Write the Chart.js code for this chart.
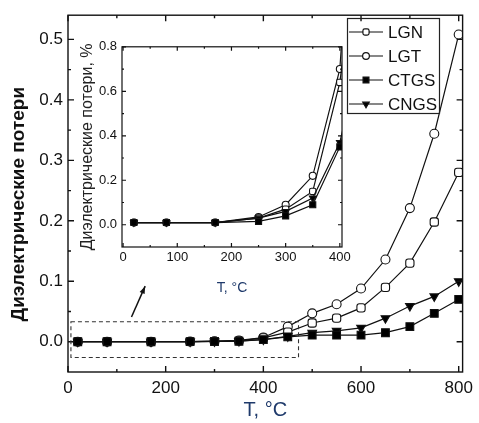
<!DOCTYPE html>
<html>
<head>
<meta charset="utf-8">
<script src="https://cdn.jsdelivr.net/npm/chart.js@4.4.1/dist/chart.umd.min.js"></script>
<style>
  html, body { margin: 0; padding: 0; background: #fff; }
  #wrap { position: relative; width: 479px; height: 423px; }
  #main { position: absolute; left: 0; top: 0; }
  #inset { position: absolute; left: 70px; top: 34px; }
</style>
</head>
<body>
<div id="wrap">
  <canvas id="main" width="479" height="423"></canvas>
  <canvas id="inset" width="285" height="270"></canvas>
</div>
<script>
// main plot: temperature (°C) and losses
const tempMain = [20, 80, 170, 250, 300, 350, 400, 450, 500, 550, 600, 650, 700, 750, 800];
const lgnMain  = [0.0001, 0.0001, 0.0001, 0.0003, 0.0007, 0.0015, 0.0064, 0.016, 0.031, 0.039, 0.056, 0.090, 0.130, 0.198, 0.280];
const lgtMain  = [0.0001, 0.0001, 0.0001, 0.00035, 0.0009, 0.0022, 0.0070, 0.025, 0.047, 0.062, 0.088, 0.136, 0.221, 0.344, 0.508];
const ctgsMain = [0.0001, 0.0001, 0.0001, 0.00015, 0.0004, 0.0009, 0.0035, 0.008, 0.011, 0.011, 0.011, 0.015, 0.025, 0.047, 0.070];
const cngsMain = [0.0001, 0.0001, 0.0001, 0.0003, 0.0006, 0.0012, 0.0037, 0.009, 0.015, 0.018, 0.023, 0.039, 0.059, 0.075, 0.100];

// inset: same samples up to 450 °C, losses in %
const tempInset = [20, 80, 170, 250, 300, 350, 400, 450];
const lgnInset  = [0.01, 0.01, 0.01, 0.03, 0.07, 0.15, 0.64, 1.6];
const lgtInset  = [0.01, 0.01, 0.01, 0.035, 0.09, 0.22, 0.70, 2.5];
const ctgsInset = [0.01, 0.01, 0.01, 0.015, 0.04, 0.09, 0.35, 0.8];
const cngsInset = [0.01, 0.01, 0.01, 0.03, 0.06, 0.12, 0.37, 0.9];

const names = ['LGN', 'LGT', 'CTGS', 'CNGS'];
const xTicksMain = [0, 200, 400, 600, 800];
const yTicksMain = [0, 0.1, 0.2, 0.3, 0.4, 0.5];
const xTicksInset = [0, 100, 200, 300, 400];
const yTicksInset = [0, 0.2, 0.4, 0.6, 0.8];

// dashed zoom region and arrow (data units)
const boxT = [6, 472];
const boxLoss = [-0.026, 0.033];
const arrowT = [130, 158];
const arrowLoss = [0.041, 0.092];

const FONT = '"Liberation Sans", Arial, sans-serif';
const looks = {
  LGN:  { style: 'rectRounded', fill: '#fff', r: 4.8, rot: 0 },
  LGT:  { style: 'circle', fill: '#fff', r: 4.5, rot: 0 },
  CTGS: { style: 'rect', fill: '#000', r: 5.5, rot: 0 },
  CNGS: { style: 'triangle', fill: '#000', r: 5, rot: 180 }
};

function makeSets(temps, lists, k) {
  return names.map((n, j) => ({
    label: n,
    data: temps.map((t, i) => ({ x: t, y: lists[j][i] })),
    borderColor: '#111',
    borderWidth: 1.2,
    pointStyle: looks[n].style,
    pointRotation: looks[n].rot,
    pointRadius: looks[n].r * k,
    pointHoverRadius: looks[n].r * k,
    pointBackgroundColor: looks[n].fill,
    pointBorderColor: '#111',
    pointBorderWidth: 1.1,
    order: looks[n].fill === '#000' ? 0 : 1
  }));
}

// full box with inward ticks on all four sides
const frame = {
  id: 'frame',
  afterDatasetsDraw(chart, args, o) {
    const { ctx, chartArea: a } = chart;
    const sx = chart.scales.x, sy = chart.scales.y;
    const mid = v => v.slice(1).map((t, i) => (t + v[i]) / 2);
    ctx.save();
    ctx.strokeStyle = '#111';
    ctx.lineWidth = o.width;
    ctx.strokeRect(a.left, a.top, a.right - a.left, a.bottom - a.top);
    ctx.beginPath();
    [[o.xMajor, o.major], [mid(o.xMajor), o.minor]].forEach(([vals, len]) => vals.forEach(v => {
      const p = sx.getPixelForValue(v);
      ctx.moveTo(p, a.bottom); ctx.lineTo(p, a.bottom - len);
      ctx.moveTo(p, a.top); ctx.lineTo(p, a.top + len);
    }));
    [[o.yMajor, o.major], [mid(o.yMajor), o.minor]].forEach(([vals, len]) => vals.forEach(v => {
      const p = sy.getPixelForValue(v);
      ctx.moveTo(a.left, p); ctx.lineTo(a.left + len, p);
      ctx.moveTo(a.right, p); ctx.lineTo(a.right - len, p);
    }));
    ctx.stroke();
    ctx.restore();
  }
};

const zoomBox = {
  id: 'zoomBox',
  afterDatasetsDraw(chart) {
    const { ctx, scales: { x, y } } = chart;
    const x0 = x.getPixelForValue(boxT[0]), x1 = x.getPixelForValue(boxT[1]);
    const y0 = y.getPixelForValue(boxLoss[1]), y1 = y.getPixelForValue(boxLoss[0]);
    ctx.save();
    ctx.strokeStyle = '#333';
    ctx.lineWidth = 1.1;
    ctx.setLineDash([4, 3]);
    ctx.strokeRect(x0, y0, x1 - x0, y1 - y0);
    ctx.setLineDash([]);
    const ax0 = x.getPixelForValue(arrowT[0]), ay0 = y.getPixelForValue(arrowLoss[0]);
    const ax1 = x.getPixelForValue(arrowT[1]), ay1 = y.getPixelForValue(arrowLoss[1]);
    const ang = Math.atan2(ay1 - ay0, ax1 - ax0);
    ctx.strokeStyle = '#111';
    ctx.lineWidth = 1.5;
    ctx.beginPath(); ctx.moveTo(ax0, ay0); ctx.lineTo(ax1, ay1); ctx.stroke();
    ctx.fillStyle = '#111';
    ctx.beginPath();
    ctx.moveTo(ax1, ay1);
    ctx.lineTo(ax1 - 8 * Math.cos(ang - 0.35), ay1 - 8 * Math.sin(ang - 0.35));
    ctx.lineTo(ax1 - 8 * Math.cos(ang + 0.35), ay1 - 8 * Math.sin(ang + 0.35));
    ctx.closePath(); ctx.fill();
    ctx.restore();
  }
};

// legend box inside the plot, line + marker swatches
const boxLegend = {
  id: 'boxLegend',
  afterDraw(chart) {
    const ctx = chart.ctx;
    ctx.save();
    ctx.strokeStyle = '#222';
    ctx.lineWidth = 1.2;
    ctx.strokeRect(347.5, 18.5, 92, 95);
    ctx.font = '17px ' + FONT;
    ctx.textBaseline = 'middle';
    names.forEach((n, i) => {
      const y = 32 + i * 24;
      ctx.strokeStyle = '#111';
      ctx.lineWidth = 1.2;
      ctx.beginPath(); ctx.moveTo(349, y); ctx.lineTo(383, y); ctx.stroke();
      ctx.fillStyle = looks[n].fill;
      Chart.helpers.drawPoint(ctx, { pointStyle: looks[n].style, radius: looks[n].r * 0.75, rotation: looks[n].rot, borderWidth: 1.1 }, 366, y);
      ctx.fillStyle = '#111';
      ctx.fillText(n, 388, y + 1);
    });
    ctx.restore();
  }
};

function axis(min, max, ticks, fmt, size, pad, fit, title) {
  return {
    type: 'linear', min, max,
    afterBuildTicks: s => { s.ticks = ticks.map(v => ({ value: v })); },
    afterFit: fit,
    grid: { display: false, drawTicks: false },
    border: { display: false },
    ticks: { autoSkip: false, maxRotation: 0, padding: pad, color: '#111', font: { family: FONT, size }, callback: fmt },
    title
  };
}

new Chart(document.getElementById('main'), {
  type: 'line',
  data: { datasets: makeSets(tempMain, [lgnMain, lgtMain, ctgsMain, cngsMain], 1) },
  options: {
    responsive: false,
    animation: false,
    layout: { padding: { left: 0, top: 12, right: 12, bottom: 0 } },
    plugins: {
      legend: { display: false },
      tooltip: { enabled: false },
      frame: { width: 1.4, major: 6, minor: 3, xMajor: xTicksMain, yMajor: yTicksMain }
    },
    scales: {
      x: axis(0, 808, xTicksMain, v => v, 17, 6, s => { s.height = 51; },
        { display: true, text: 'T, °C', color: '#1f3a6b', font: { family: FONT, size: 20 }, padding: { top: 0, bottom: 1 } }),
      // trailing spaces nudge the rotated title down to where the original sits
      y: axis(-0.05, 0.54, yTicksMain, v => v.toFixed(1), 17, 5, s => { s.width = 68; },
        { display: true, text: 'Диэлектрические потери    ', color: '#111', font: { family: FONT, size: 19, weight: 'bold' }, padding: { top: 7, bottom: 0 } })
    }
  },
  plugins: [frame, zoomBox, boxLegend]
});

new Chart(document.getElementById('inset'), {
  type: 'line',
  data: { datasets: makeSets(tempInset, [lgnInset, lgtInset, ctgsInset, cngsInset], 0.78) },
  options: {
    responsive: false,
    animation: false,
    layout: { padding: { left: 0, top: 10, right: 13, bottom: 0 } },
    plugins: {
      legend: { display: false },
      tooltip: { enabled: false },
      frame: { width: 1.2, major: 4, minor: 2, xMajor: xTicksInset, yMajor: yTicksInset }
    },
    scales: {
      x: axis(-2, 404, xTicksInset, v => v, 13, 3, s => { s.height = 57; },
        { display: true, text: 'T, °C', color: '#1f3a6b', font: { family: FONT, size: 14 }, padding: { top: 0, bottom: 7.6 } }),
      y: axis(-0.1, 0.8, yTicksInset, v => v.toFixed(1), 13, 5, s => { s.width = 52; },
        { display: true, text: 'Диэлектрические потери, %', color: '#222', font: { family: FONT, size: 16 }, padding: { top: 7.5, bottom: 0 } })
    }
  },
  plugins: [frame]
});
</script>
</body>
</html>
